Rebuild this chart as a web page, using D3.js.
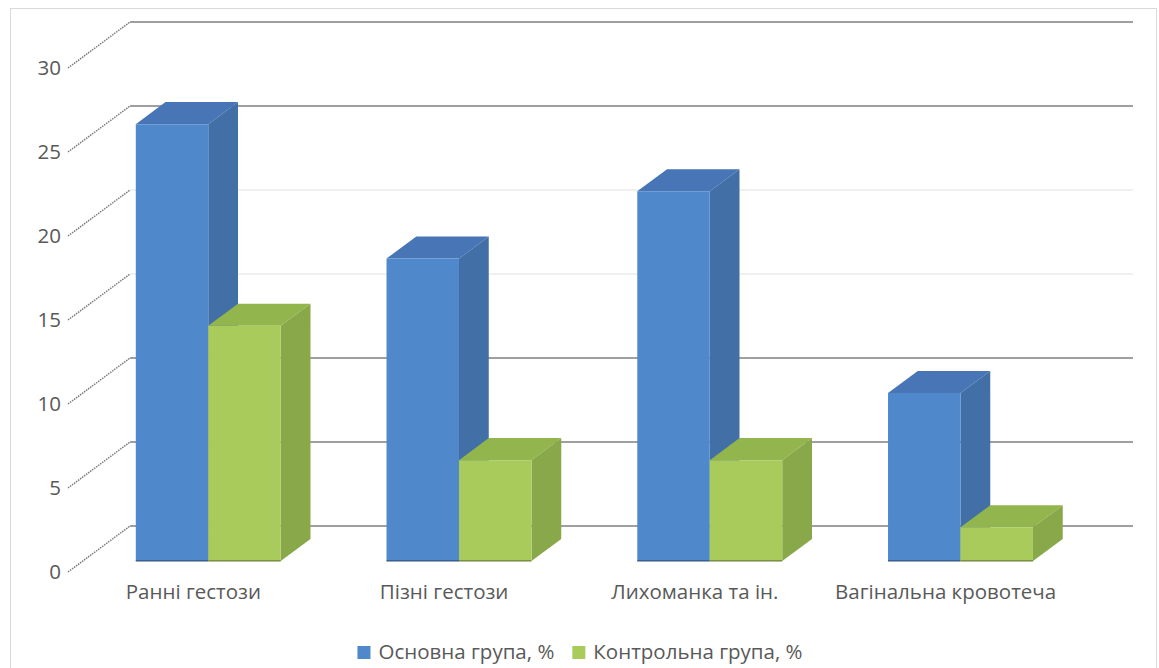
<!DOCTYPE html>
<html><head><meta charset="utf-8">
<script src="https://cdn.jsdelivr.net/npm/d3@7"></script>
<style>
html,body{margin:0;padding:0;background:#fff;}
svg{display:block;}
text{font-family:"Open Sans","Noto Sans",sans-serif;fill:#595959;}
</style></head>
<body><svg id="c" width="1159" height="668"></svg>
<script>
const categories = ["Ранні гестози","Пізні гестози","Лихоманка та ін.","Вагінальна кровотеча"];
const seriesNames = ["Основна група, %","Контрольна група, %"];
const mainGroup = [26,18,22,10];
const controlGroup = [14,6,6,2];
const yTicks = [0,5,10,15,20,25,30];
const darkGrid = [0,5,10,25,30];

const frontColors = ["#4f88cb","#a8cb5c"];
const topColors = ["#4775b6","#93b54d"];
const sideColors = ["#426fa6","#88a84a"];

const svg = d3.select("#c");
const W=1159,H=668;
svg.append("rect").attr("x",10.5).attr("y",8.5).attr("width",1146).attr("height",H+10)
  .attr("fill","#fff").attr("stroke","#d9d9d9").attr("stroke-width",1);

// projection params
const DX=62, DY=46;
const y = d3.scaleLinear().domain([0,30]).range([572,68]);
const x = d3.scaleBand().domain(categories).range([68,1071]);
const sub = d3.scaleBand().domain(seriesNames).range([0,x.bandwidth()]).paddingOuter(0.73).paddingInner(0);
const F0=0.24, F1=0.72;
const P=(px,v,f)=>[px+f*DX, y(v)-f*DY];
const FS=20.5;

// back wall gridlines
yTicks.forEach(t=>{
  const [bx,by]=P(x.range()[0],t,1);
  const [ex]=P(x.range()[1],t,1);
  const dark = darkGrid.includes(t);
  svg.append("line").attr("x1",bx).attr("x2",ex).attr("y1",by).attr("y2",by)
    .attr("stroke",dark?"#7f7f7f":"#e2e2e2").attr("stroke-width",dark?1.4:1.2);
  // side diagonal
  const [fx,fy]=P(x.range()[0],t,0);
  svg.append("line").attr("x1",fx).attr("y1",fy).attr("x2",bx).attr("y2",by)
    .attr("stroke","#7a7a7a").attr("stroke-width",1.5).attr("stroke-dasharray","1.5,1");
  svg.append("text").attr("x",fx-7).attr("y",fy).attr("dy","0.36em")
    .attr("text-anchor","end").attr("font-size",FS).text(t);
});

// bars
const data = categories.map((c,i)=>({c, vals:[mainGroup[i],controlGroup[i]]}));
const poly=(pts)=>pts.map(p=>p.join(",")).join(" ");
data.forEach(d=>{
  d.vals.forEach((v,si)=>{
    const x0 = x(d.c)+sub(seriesNames[si]);
    const x1 = x0+sub.bandwidth();
    const g = svg.append("g");
    g.append("polygon").attr("points",poly([P(x0,v,F0),P(x1,v,F0),P(x1,v,F1),P(x0,v,F1)]))
      .attr("fill",topColors[si]);
    g.append("polygon").attr("points",poly([P(x1,0,F0),P(x1,v,F0),P(x1,v,F1),P(x1,0,F1)]))
      .attr("fill",sideColors[si]);
    g.append("polygon").attr("points",poly([P(x0,0,F0),P(x1,0,F0),P(x1,v,F0),P(x0,v,F0)]))
      .attr("fill",frontColors[si]);
    const [bx0,by0]=P(x0,0,F0),[bx1]=P(x1,0,F0);
    g.append("line").attr("x1",bx0).attr("x2",bx1).attr("y1",by0).attr("y2",by0)
      .attr("stroke",si?"#6b7f3a":"#34557f").attr("stroke-width",1.2);
  });
});

// category labels
categories.forEach(c=>{
  svg.append("text").attr("x",x(c)+x.bandwidth()/2).attr("y",599)
    .attr("text-anchor","middle").attr("font-size",FS).text(c);
});

// legend
const lg = svg.append("g");
let cx=0;
seriesNames.forEach((s,i)=>{
  lg.append("rect").attr("x",cx).attr("y",-13).attr("width",13).attr("height",13).attr("fill",frontColors[i]);
  const t=lg.append("text").attr("x",cx+21).attr("y",0).attr("font-size",FS).text(s);
  cx += 21 + t.node().getComputedTextLength() + 18;
});
const lw = cx-18;
lg.attr("transform",`translate(${580-lw/2},659)`);
</script></body></html>
